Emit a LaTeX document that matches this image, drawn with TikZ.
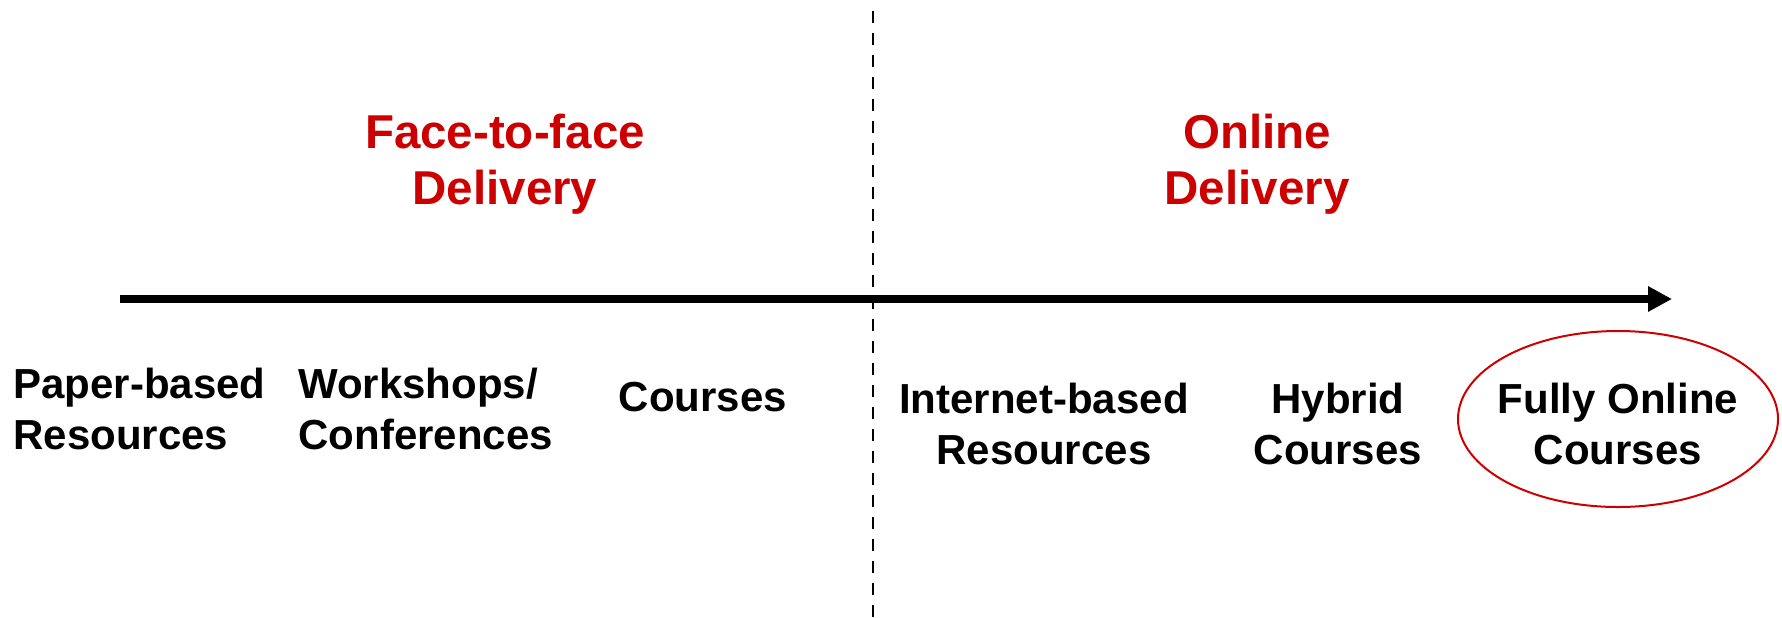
\documentclass[tikz,border=0pt]{standalone}
\usepackage{fontspec}
\setmainfont{Liberation Sans}
\usetikzlibrary{arrows.meta,shapes.geometric}
\definecolor{headred}{RGB}{204,0,0}
\begin{document}
\begin{tikzpicture}[x=0.5pt,y=-0.5pt,
  head/.style={font={\fontsize{23.75}{28}\selectfont\bfseries}, text=headred, align=center, inner sep=0pt, anchor=base},
  item/.style={font={\fontsize{21}{25.5}\selectfont\bfseries}, text=black, inner sep=0pt, anchor=base},
  axis/.style={line width=3.75pt, -{Triangle[length=12pt,width=12pt]}},
  divider/.style={line width=1pt, dash pattern=on 6pt off 5pt},
  ring/.style={draw=headred, line width=1pt, ellipse, minimum width=160pt, minimum height=88pt, inner sep=0pt}]
\useasboundingbox (0,0) rectangle (1782,617);
\coordinate (divTop) at (873,11);
\coordinate (divBot) at (873,617);
\coordinate (axisL) at (120,299);
\coordinate (axisR) at (1672,299);
\draw[divider] (divTop) -- (divBot);
\draw[axis] (axisL) -- (axisR);
\node[head] (f2f) at (505,204) {Face-to-face\\Delivery};
\node[head] (onl) at (1257,204) {Online\\Delivery};
\node[item, anchor=base west, align=left] (paper) at (13,449) {Paper-based\\Resources};
\node[item, anchor=base west, align=left] (work) at (298,449) {Workshops/\\Conferences};
\node[item, align=center] (courses) at (703,411) {Courses};
\node[item, align=center] (inet) at (1044,464) {Internet-based\\Resources};
\node[item, align=center] (hybrid) at (1338,464) {Hybrid\\Courses};
\node[item, align=center] (fully) at (1618,464) {Fully Online\\Courses};
\node[ring] (ellipseFully) at (1618,419) {};
\end{tikzpicture}
\end{document}
